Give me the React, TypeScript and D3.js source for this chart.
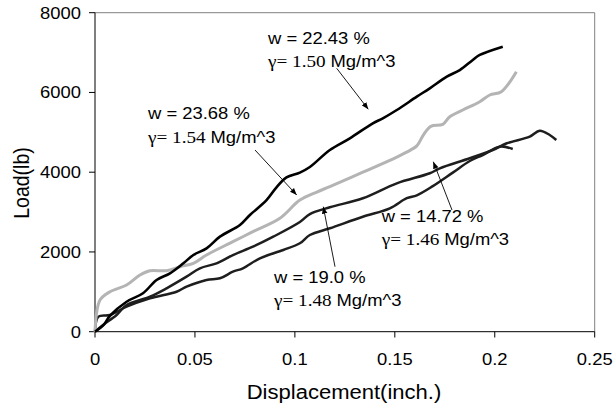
import React from "react";
import * as d3 from "d3";

const xTicks = [0, 0.05, 0.1, 0.15, 0.2, 0.25];
const xTickLabels = ["0", "0.05", "0.1", "0.15", "0.2", "0.25"];
const yTicks = [0, 2000, 4000, 6000, 8000];
const yTickLabels = ["0", "2000", "4000", "6000", "8000"];

// w = 22.43 %
const s2243: [number, number][] = [
  [0, 0], [0.004, 150], [0.0075, 400], [0.0158, 752], [0.024, 963], [0.0308, 1297],
  [0.0375, 1464], [0.0442, 1715], [0.0492, 1923], [0.0558, 2090], [0.0625, 2383],
  [0.0725, 2676], [0.0775, 2927], [0.0858, 3300], [0.0908, 3620], [0.0958, 3870],
  [0.1025, 3990], [0.1075, 4130], [0.1175, 4557], [0.1275, 4850], [0.139, 5226], [0.144, 5352],
  [0.151, 5560], [0.161, 5894], [0.1675, 6104], [0.176, 6395], [0.1825, 6560],
  [0.189, 6814], [0.1925, 6940], [0.204, 7148],
];
// w = 23.68 %
const s2368: [number, number][] = [
  [0, 0], [0.0025, 793], [0.0075, 1003], [0.0158, 1171], [0.0225, 1422], [0.0275, 1530],
  [0.0358, 1530], [0.0425, 1630], [0.0492, 1715], [0.0558, 1923], [0.069, 2257],
  [0.079, 2508], [0.0925, 2844], [0.1025, 3300], [0.111, 3503], [0.1175, 3640],
  [0.134, 4000], [0.151, 4380], [0.158, 4560], [0.161, 4660], [0.1645, 4950], [0.168, 5150],
  [0.174, 5200], [0.1775, 5392], [0.184, 5560], [0.1925, 5768], [0.1975, 5936], [0.2033, 6019],
  [0.2108, 6521],
];
// w = 14.72 %
const s1472: [number, number][] = [
  [0, 0], [0.004, 167], [0.0108, 419], [0.0158, 669], [0.0275, 878], [0.0358, 1088],
  [0.0458, 1380], [0.0525, 1590], [0.0608, 1715], [0.069, 1923], [0.079, 2132],
  [0.0892, 2383], [0.1025, 2750], [0.1075, 2950], [0.1175, 3120], [0.134, 3346],
  [0.151, 3721], [0.1675, 3973], [0.1725, 4098], [0.1875, 4349], [0.199, 4557],
  [0.206, 4725], [0.2175, 4890], [0.2225, 5041], [0.2275, 4933], [0.2308, 4808],
];
// w = 19.0 %
const s190: [number, number][] = [
  [0, 0], [0.0017, 376], [0.0075, 419], [0.0158, 627], [0.0275, 837], [0.0408, 1003],
  [0.0458, 1129], [0.0558, 1297], [0.0625, 1339], [0.069, 1505], [0.074, 1590],
  [0.0825, 1840], [0.0942, 2049], [0.1025, 2217], [0.1075, 2425], [0.1175, 2593],
  [0.134, 2884], [0.1475, 3095], [0.156, 3350], [0.161, 3420], [0.169, 3650],
  [0.179, 3990], [0.1875, 4280], [0.194, 4431], [0.2025, 4640], [0.209, 4582],
];

const SANS = "'Liberation Sans', Arial, sans-serif";
const SERIF = "'Liberation Serif', 'Times New Roman', serif";
const SX = 1.13;

function T({ x, y, size, anchor = "start", children, rotate = 0 }: any) {
  return (
    <text
      transform={`translate(${x},${y}) scale(${SX},1)${rotate ? ` rotate(${rotate})` : ""}`}
      fontFamily={SANS}
      fontSize={size}
      textAnchor={anchor}
      fill="#000"
    >
      {children}
    </text>
  );
}

function Note({ x, y, w, g }: { x: number; y: number; w: string; g: string }) {
  return (
    <g>
      <T x={x} y={y} size={16.3}>{`w = ${w} %`}</T>
      <T x={x} y={y + 23.5} size={16.3}>
        <tspan fontFamily={SERIF} fontSize={17}>{`γ= ${g} `}</tspan>
        <tspan>Mg/m^3</tspan>
      </T>
    </g>
  );
}

export default function App() {
  const W = 613, H = 408;
  const x = d3.scaleLinear().domain([0, 0.25]).range([95, 594.7]);
  const y = d3.scaleLinear().domain([0, 8000]).range([331.7, 12.7]);
  const line = d3
    .line<[number, number]>()
    .x((d) => x(d[0]))
    .y((d) => y(d[1]))
    .curve(d3.curveCatmullRom.alpha(0.5));

  const arrows = [
    [336.7, 68.3, 368.3, 109.3],
    [255, 150, 296.7, 195],
    [452, 210, 433.3, 161.7],
    [335, 266.7, 323.3, 206.7],
  ];

  return (
    <svg width={W} height={H} style={{ position: "absolute", left: 0, top: 0, background: "#fff" }}>
      <defs>
        <marker id="ah" viewBox="0 0 10 10" refX="10" refY="5" markerWidth="7" markerHeight="7" orient="auto" markerUnits="userSpaceOnUse">
          <path d="M0,1 L10,5 L0,9 Z" fill="#000" />
        </marker>
      </defs>
      <rect x={0} y={0} width={W} height={H} fill="#fff" />
      {/* frame */}
      <line x1={95} x2={594.7} y1={12.7} y2={12.7} stroke="#808080" strokeWidth={1} />
      <line x1={594.7} x2={594.7} y1={12.7} y2={331.7} stroke="#808080" strokeWidth={1} />
      <line x1={95} x2={95} y1={12.7} y2={331.7} stroke="#000" strokeWidth={1} />
      <line x1={95} x2={594.7} y1={331.7} y2={331.7} stroke="#000" strokeWidth={1} />
      {yTicks.map((t, i) => (
        <g key={"y" + i}>
          <line x1={89} x2={95} y1={y(t)} y2={y(t)} stroke="#000" />
          <T x={81} y={y(t) + 6} size={16.3} anchor="end">{yTickLabels[i]}</T>
        </g>
      ))}
      {xTicks.map((t, i) => (
        <g key={"x" + i}>
          <line x1={x(t)} x2={x(t)} y1={331.7} y2={337.5} stroke="#000" />
          <T x={x(t)} y={365} size={16.3} anchor="middle">{xTickLabels[i]}</T>
        </g>
      ))}
      <T x={344} y={399} size={19.5} anchor="middle">Displacement(inch.)</T>
      <T x={29} y={183} size={19.5} anchor="middle" rotate={-90}>Load(lb)</T>

      {/* series */}
      <path d={line(s190) || ""} fill="none" stroke="#1e1e1e" strokeWidth={2.5} />
      <path d={line(s1472) || ""} fill="none" stroke="#1e1e1e" strokeWidth={2.5} />
      <path d={line(s2368) || ""} fill="none" stroke="#b4b4b4" strokeWidth={3} />
      <path d={line(s2243) || ""} fill="none" stroke="#000" strokeWidth={2.6} />

      {/* annotations */}
      {arrows.map((a, i) => (
        <line key={"a" + i} x1={a[0]} y1={a[1]} x2={a[2]} y2={a[3]} stroke="#000" strokeWidth={0.9} markerEnd="url(#ah)" />
      ))}
      <Note x={268} y={43.5} w="22.43" g="1.50" />
      <Note x={148} y={119} w="23.68" g="1.54" />
      <Note x={381.7} y={221.7} w="14.72" g="1.46" />
      <Note x={274} y={282.7} w="19.0" g="1.48" />
    </svg>
  );
}
